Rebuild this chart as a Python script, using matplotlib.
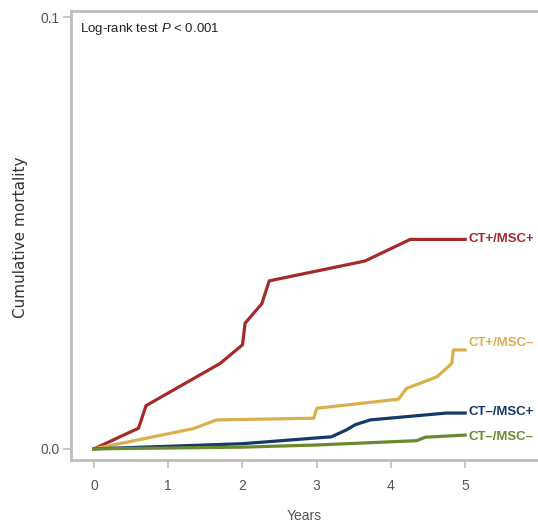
import matplotlib
matplotlib.use('Agg')
import matplotlib.pyplot as plt

# Font setup
plt.rcParams['font.family'] = ['Liberation Sans', 'DejaVu Sans']
plt.rcParams['mathtext.fontset'] = 'custom'
plt.rcParams['mathtext.it'] = 'Liberation Sans:italic'
plt.rcParams['mathtext.rm'] = 'Liberation Sans'

# Cumulative mortality curves (years, mortality)
red_x = [0, 0.60, 0.70, 1.70, 2.00, 2.035, 2.26, 2.36, 3.65, 4.26, 5.0]
red_y = [0, 0.0048, 0.0100, 0.0198, 0.0241, 0.0291, 0.0336, 0.0389, 0.0435, 0.0485, 0.0485]

yellow_x = [0, 1.34, 1.65, 2.96, 3.00, 4.10, 4.21, 4.62, 4.82, 4.84, 5.0]
yellow_y = [0, 0.0047, 0.0067, 0.0071, 0.0094, 0.0115, 0.0140, 0.0167, 0.0198, 0.0229, 0.0229]

blue_x = [0, 2.0, 3.20, 3.40, 3.52, 3.72, 4.75, 5.0]
blue_y = [0, 0.0012, 0.0028, 0.0044, 0.0056, 0.0067, 0.0083, 0.0083]

green_x = [0, 2.0, 3.0, 4.35, 4.46, 5.0]
green_y = [0, 0.0004, 0.0009, 0.0019, 0.0027, 0.0032]

labels = ['CT+/MSC+', 'CT+/MSC\u2013', 'CT\u2013/MSC+', 'CT\u2013/MSC\u2013']
label_y = [0.0485, 0.0245, 0.0085, 0.0028]
colors = ['#A52A2A', '#D9B04C', '#163A68', '#6A8A2C']

fig = plt.figure(figsize=(5.38, 5.22), dpi=100)
ax = fig.add_axes([0.132, 0.119, 0.93, 0.860])

series = [(red_x, red_y), (yellow_x, yellow_y), (blue_x, blue_y), (green_x, green_y)]
for (xs, ys), c in zip(series, colors):
    ax.plot(xs, ys, color=c, lw=2.3, solid_joinstyle='round')

for lab, ly, c in zip(labels, label_y, colors):
    ax.text(5.05, ly, lab, color=c, fontsize=9.5, fontweight='bold', va='center', ha='left')

ax.text(0.018, 0.978, 'Log-rank test $\\it{P}$ < 0.001', transform=ax.transAxes,
        fontsize=9.5, color='#222222', va='top', ha='left')

ax.set_xlim(-0.31, 6.43)
ax.set_ylim(-0.00255, 0.1014)
ax.set_xticks([0, 1, 2, 3, 4, 5])
ax.set_yticks([0.0, 0.1])
ax.set_yticklabels(['0.0', '0.1'])

for s in ax.spines.values():
    s.set_color('#BDBDBD')
    s.set_linewidth(2)
ax.tick_params(direction='out', length=6, width=1.2, color='#BDBDBD',
               labelcolor='#555555', labelsize=10)
ax.tick_params(axis='x', pad=8)
ax.tick_params(axis='y', pad=2)

fig.text(0.039, 0.545, 'Cumulative mortality', rotation=90, va='center', ha='center',
         fontsize=11, color='#333333', family='DejaVu Sans')
fig.text(0.565, 0.012, 'Years', va='center', ha='center', fontsize=10, color='#555555')

plt.savefig('out.png', dpi=100)
